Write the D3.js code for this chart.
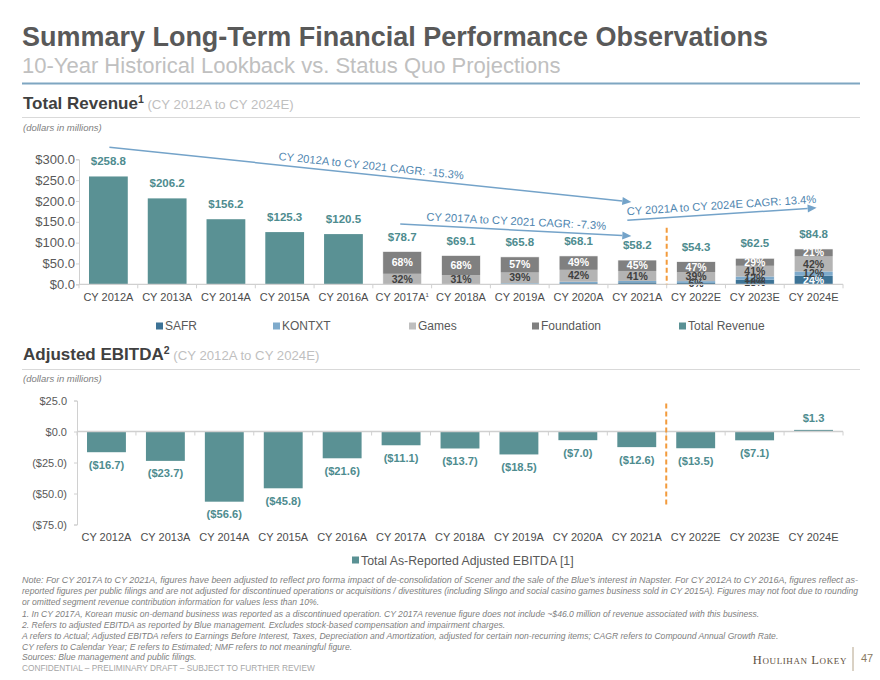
<!DOCTYPE html>
<html><head><meta charset="utf-8">
<script src="https://cdn.jsdelivr.net/npm/d3@7"></script>
<style>
body{margin:0;background:#fff;}
svg{font-family:"Liberation Sans",Arial,sans-serif;display:block;}
</style></head>
<body><svg id="c" width="880" height="680"></svg>
<script>
// ---------------- data ----------------
const categories = ["CY 2012A","CY 2013A","CY 2014A","CY 2015A","CY 2016A","CY 2017A","CY 2018A","CY 2019A","CY 2020A","CY 2021A","CY 2022E","CY 2023E","CY 2024E"];
const totalRevenue = [258.8,206.2,156.2,125.3,120.5,78.7,69.1,65.8,68.1,58.2,54.3,62.5,84.8];
const foundationPct = [null,null,null,null,null,68,68,57,49,45,47,29,21];
const gamesPct      = [null,null,null,null,null,32,31,39,42,41,39,41,42];
const kontxtPct     = [null,null,null,null,null,0,0,3,5,6,8,12,12];
const safrPct       = [null,null,null,null,null,0,1,1,4,8,6,18,24];
const ebitda = [-16.7,-23.7,-56.6,-45.8,-21.6,-11.1,-13.7,-18.5,-7.0,-12.6,-13.5,-7.1,1.3];
const revenueTicks = [0,50,100,150,200,250,300];
const ebitdaTicks = [-75,-50,-25,0,25];
const revenueLegend = ["SAFR","KONTXT","Games","Foundation","Total Revenue"];
const ebitdaLegend = ["Total As-Reported Adjusted EBITDA [1]"];
const cagrLabels = ["CY 2012A to CY 2021 CAGR: -15.3%","CY 2017A to CY 2021 CAGR: -7.3%","CY 2021A to CY 2024E CAGR: 13.4%"];
const footnotes = [
 "Note: For CY 2017A to CY 2021A, figures have been adjusted to reflect pro forma impact of de-consolidation of Scener and the sale of the Blue\u2019s interest in Napster. For CY 2012A to CY 2016A, figures reflect as-",
 "reported figures per public filings and are not adjusted for discontinued operations or acquisitions / divestitures (including Slingo and social casino games business sold in CY 2015A). Figures may not foot due to rounding",
 "or omitted segment revenue contribution information for values less than 10%.",
 "1.  In CY 2017A, Korean music on-demand business was reported as a discontinued operation. CY 2017A revenue figure does not include ~$46.0 million of revenue associated with this business.",
 "2.  Refers to adjusted EBITDA as reported by Blue management. Excludes stock-based compensation and impairment charges.",
 "A refers to Actual; Adjusted EBITDA refers to Earnings Before Interest, Taxes, Depreciation and Amortization, adjusted for certain non-recurring items; CAGR refers to Compound Annual Growth Rate.",
 "CY refers to Calendar Year; E refers to Estimated; NMF refers to not meaningful figure.",
 "Sources: Blue management and public filings."
];

// ---------------- styles ----------------
const TEAL = "#5a9194", TEAL_TXT = "#4e8c8f";
const SERIES = [
  {name:"SAFR", pct:safrPct, color:"#3d7396"},
  {name:"KONTXT", pct:kontxtPct, color:"#7eaacb"},
  {name:"Games", pct:gamesPct, color:"#b4b4b4"},
  {name:"Foundation", pct:foundationPct, color:"#808080"}
];
const legendColors = {"SAFR":"#3d7396","KONTXT":"#7eaacb","Games":"#bfbfbf","Foundation":"#808080","Total Revenue":TEAL};
const AXIS = "#d0d0d0", LBL = "#4d4d4d", ARROW = "#74a3c9", ARROW_TXT = "#4f86b0";

const svg = d3.select("#c");

// ---------------- header ----------------
svg.append("text").attr("x",22).attr("y",46).attr("font-size",27).attr("font-weight","bold")
  .attr("fill","#595959").attr("textLength",746).attr("lengthAdjust","spacingAndGlyphs")
  .text("Summary Long-Term Financial Performance Observations");
svg.append("text").attr("x",22).attr("y",73).attr("font-size",22).attr("fill","#c0c0c0")
  .text("10-Year Historical Lookback vs. Status Quo Projections");
svg.append("line").attr("x1",22).attr("x2",860).attr("y1",83.5).attr("y2",83.5)
  .attr("stroke","#7ea6c1").attr("stroke-width",2);

function section(yBase, main, sup, sub, ruleY, noteY){
  const t = svg.append("text").attr("x",23).attr("y",yBase);
  t.append("tspan").attr("font-size",17).attr("font-weight","bold").attr("fill","#404040").text(main);
  t.append("tspan").attr("font-size",10.5).attr("font-weight","bold").attr("fill","#404040").attr("dy",-6).text(sup);
  t.append("tspan").attr("font-size",13.2).attr("fill","#bfbfbf").attr("dy",6).text(" " + sub);
  svg.append("line").attr("x1",22).attr("x2",860).attr("y1",ruleY).attr("y2",ruleY).attr("stroke","#d9d9d9").attr("stroke-width",1);
  svg.append("text").attr("x",23).attr("y",noteY).attr("font-size",9.5).attr("font-style","italic")
    .attr("fill","#808080").text("(dollars in millions)");
}
section(109, "Total Revenue", "1", "(CY 2012A to CY 2024E)", 117.5, 131);
section(360, "Adjusted EBITDA", "2", "(CY 2012A to CY 2024E)", 369.5, 382);

// ---------------- revenue chart ----------------
const xR = d3.scaleBand().domain(categories).range([79,843]).paddingInner(0.34).paddingOuter(0.17);
const yR = d3.scaleLinear().domain([0,300]).range([284.3,159.3]);
const fmt1 = d3.format(",.1f");
const money = v => v < 0 ? "($" + fmt1(-v) + ")" : "$" + fmt1(v);

const gy = svg.append("g").attr("transform","translate(79,0)")
  .call(d3.axisLeft(yR).tickValues(revenueTicks).tickFormat(money).tickSize(3).tickPadding(1));
gy.selectAll("path,line").attr("stroke",AXIS);
gy.selectAll("text").attr("font-size",13).attr("fill","#595959").attr("font-family","'Liberation Sans',Arial,sans-serif");

const rows = categories.map((c,i)=>({c, total: totalRevenue[i], i}));
svg.append("g").selectAll("rect").data(rows.filter(d=>foundationPct[d.i]==null)).join("rect")
  .attr("x",d=>xR(d.c)).attr("width",xR.bandwidth())
  .attr("y",d=>yR(d.total)).attr("height",d=>yR(0)-yR(d.total)).attr("fill",TEAL);

const segs = [];
rows.filter(d=>foundationPct[d.i]!=null).forEach(d=>{
  const sum = SERIES.reduce((a,s)=>a + s.pct[d.i],0);
  let acc = 0;
  SERIES.forEach(s=>{
    const v = d.total * s.pct[d.i] / sum;
    segs.push({c:d.c, s, pct:s.pct[d.i], y0:acc, y1:acc+v});
    acc += v;
  });
});
svg.append("g").selectAll("rect").data(segs.filter(d=>d.pct>0)).join("rect")
  .attr("x",d=>xR(d.c)).attr("width",xR.bandwidth())
  .attr("y",d=>yR(d.y1)).attr("height",d=>yR(d.y0)-yR(d.y1)).attr("fill",d=>d.s.color);
svg.append("g").selectAll("rect").data(rows.filter(d=>foundationPct[d.i]!=null)).join("rect")
  .attr("x",d=>xR(d.c)).attr("width",xR.bandwidth())
  .attr("y",d=>yR(d.total)).attr("height",d=>yR(0)-yR(d.total))
  .attr("fill","none").attr("stroke","#ffffff").attr("stroke-width",0.6);

const showSeg = d => d.pct >= 10 || (d.s.name==="SAFR" && d.c.endsWith("E"));
const segColor = d => {
  if (d.s.name==="Foundation") return "#ffffff";
  if (d.s.name==="SAFR") return (yR(d.y0)-yR(d.y1)) > 8 ? "#ffffff" : "#404040";
  return "#404040";
};
svg.append("g").selectAll("text").data(segs.filter(showSeg)).join("text")
  .attr("x",d=>xR(d.c)+xR.bandwidth()/2)
  .attr("y",d=>(yR(d.y0)+yR(d.y1))/2 + 3.6)
  .attr("text-anchor","middle").attr("font-size",10.5).attr("font-weight","bold")
  .attr("fill",segColor).text(d=>d.pct + "%");

svg.append("g").selectAll("text").data(rows).join("text")
  .attr("x",d=>xR(d.c)+xR.bandwidth()/2).attr("y",d=>yR(d.total)-11)
  .attr("text-anchor","middle").attr("font-size",11.5).attr("font-weight","bold")
  .attr("fill",TEAL_TXT).text(d=>money(d.total));

const stepR = xR.step();
svg.append("line").attr("x1",79).attr("x2",843).attr("y1",yR(0)).attr("y2",yR(0)).attr("stroke",AXIS).attr("stroke-width",1.2);
svg.append("g").selectAll("line").data(d3.range(categories.length+1)).join("line")
  .attr("x1",k=>79+k*stepR).attr("x2",k=>79+k*stepR).attr("y1",yR(0)).attr("y2",yR(0)+4).attr("stroke",AXIS);
const xl = svg.append("g").selectAll("text").data(categories).join("text")
  .attr("x",d=>xR(d)+xR.bandwidth()/2).attr("y",301)
  .attr("text-anchor","middle").attr("font-size",11).attr("fill",LBL);
xl.append("tspan").text(d=>d);
xl.filter(d=>d==="CY 2017A").append("tspan").attr("font-size",6).attr("dy",-4).text("1");

const divX = 79 + 10*stepR;
svg.append("line").attr("x1",divX).attr("x2",divX).attr("y1",yR(136)).attr("y2",yR(0))
  .attr("stroke","#f39b3c").attr("stroke-width",2).attr("stroke-dasharray","5,3");

const xc = c => xR(c) + xR.bandwidth()/2;
const arrows = [
  {p0:[xc("CY 2012A")+1, yR(329)], p1:[xc("CY 2021A")-6, yR(197.5)], label:cagrLabels[0]},
  {p0:[xc("CY 2017A")-2, yR(144.5)], p1:[xc("CY 2021A")-6, yR(116)], label:cagrLabels[1]},
  {p0:[xc("CY 2021A")-10, yR(154)], p1:[xc("CY 2024E")+3, yR(183.5)], label:cagrLabels[2]}
];
arrows.forEach(a=>{
  const [x0,y0]=a.p0, [x1,y1]=a.p1;
  const ang = Math.atan2(y1-y0,x1-x0), L=9, W=4;
  const bx = x1 - L*Math.cos(ang), by = y1 - L*Math.sin(ang);
  svg.append("line").attr("x1",x0).attr("y1",y0).attr("x2",bx).attr("y2",by).attr("stroke",ARROW).attr("stroke-width",1.5);
  svg.append("path").attr("d",`M${x1},${y1}L${bx+W*Math.sin(ang)},${by-W*Math.cos(ang)}L${bx-W*Math.sin(ang)},${by+W*Math.cos(ang)}Z`).attr("fill",ARROW);
  const mx=(x0+x1)/2, my=(y0+y1)/2;
  const tx = mx + 5*Math.sin(ang), ty = my - 5*Math.cos(ang);
  svg.append("text").attr("transform",`translate(${tx},${ty}) rotate(${ang*180/Math.PI})`)
    .attr("text-anchor","middle").attr("font-size",11.2).attr("fill",ARROW_TXT).text(a.label);
});

const legX = [156,273,409,532,679];
const lg = svg.append("g").selectAll("g").data(revenueLegend).join("g")
  .attr("transform",(d,i)=>`translate(${legX[i]},326)`);
lg.append("rect").attr("x",0).attr("y",-3.5).attr("width",7).attr("height",7).attr("fill",d=>legendColors[d]);
lg.append("text").attr("x",9).attr("y",4.3).attr("font-size",12).attr("fill","#595959").text(d=>d);

// ---------------- EBITDA chart ----------------
const xE = d3.scaleBand().domain(categories).range([77,843]).paddingInner(0.34).paddingOuter(0.17);
const yE = d3.scaleLinear().domain([-75,25]).range([524.5,400.5]);
const ge = svg.append("g").attr("transform","translate(77,0)")
  .call(d3.axisLeft(yE).tickValues(ebitdaTicks).tickFormat(money).tickSize(3).tickPadding(7));
ge.selectAll("path,line").attr("stroke",AXIS);
ge.selectAll("text").attr("font-size",11).attr("fill","#595959").attr("font-family","'Liberation Sans',Arial,sans-serif");

const erows = categories.map((c,i)=>({c, v: ebitda[i]}));
svg.append("g").selectAll("rect").data(erows).join("rect")
  .attr("x",d=>xE(d.c)).attr("width",xE.bandwidth())
  .attr("y",d=>yE(Math.max(0,d.v))).attr("height",d=>Math.abs(yE(d.v)-yE(0))).attr("fill",TEAL);
svg.append("g").selectAll("text").data(erows).join("text")
  .attr("x",d=>xE(d.c)+xE.bandwidth()/2)
  .attr("y",d=>d.v<0 ? yE(d.v)+16.5 : yE(d.v)-8)
  .attr("text-anchor","middle").attr("font-size",11.2).attr("font-weight","bold")
  .attr("fill",TEAL_TXT).text(d=>money(d.v));

const stepE = xE.step();
svg.append("line").attr("x1",77).attr("x2",843).attr("y1",yE(0)).attr("y2",yE(0)).attr("stroke",AXIS).attr("stroke-width",1.4);
svg.append("g").selectAll("line").data(d3.range(categories.length+1)).join("line")
  .attr("x1",k=>77+k*stepE).attr("x2",k=>77+k*stepE).attr("y1",yE(0)).attr("y2",yE(0)+4).attr("stroke",AXIS);
svg.append("g").selectAll("text").data(categories).join("text")
  .attr("x",d=>xE(d)+xE.bandwidth()/2).attr("y",540.5)
  .attr("text-anchor","middle").attr("font-size",11).attr("fill",LBL).text(d=>d);

const divE = 77 + 10*stepE;
svg.append("line").attr("x1",divE).attr("x2",divE).attr("y1",yE(22.5)).attr("y2",yE(-60))
  .attr("stroke","#f39b3c").attr("stroke-width",2).attr("stroke-dasharray","5,3");

const el = svg.append("g").attr("transform","translate(352,560)");
el.append("rect").attr("x",0).attr("y",-3.5).attr("width",7).attr("height",7).attr("fill",TEAL);
el.append("text").attr("x",9).attr("y",4.5).attr("font-size",12.3).attr("fill","#595959").text(ebitdaLegend[0]);

// ---------------- footnotes ----------------
const fnY = [583,594,605,617,628,639,649.5,660];
const fnNodes = footnotes.map((t,i)=>svg.append("text").attr("x",22).attr("y",fnY[i]).attr("font-size",8.6)
    .attr("font-style","italic").attr("fill","#808080").text(t));
const natural = fnNodes.map(n=>n.node().getComputedTextLength());
const squeeze = Math.min(1, 836 / natural[0]);
fnNodes.forEach((n,i)=>{
  const w = i < 2 ? 836 : natural[i]*squeeze;
  n.attr("textLength",w).attr("lengthAdjust","spacingAndGlyphs");
});
svg.append("text").attr("x",22).attr("y",671).attr("font-size",8.3).attr("fill","#a6a6a6")
  .text("CONFIDENTIAL \u2013 PRELIMINARY DRAFT \u2013 SUBJECT TO FURTHER REVIEW");
svg.append("text").attr("x",847).attr("y",664).attr("text-anchor","end").attr("font-size",12.5)
  .attr("font-family","'Liberation Serif','DejaVu Serif',serif").attr("font-variant","small-caps")
  .attr("fill","#5e4f3e").attr("letter-spacing",0.6).text("Houlihan Lokey");
svg.append("line").attr("x1",853).attr("x2",853).attr("y1",647).attr("y2",671).attr("stroke","#b5a48a").attr("stroke-width",1);
svg.append("text").attr("x",861).attr("y",662).attr("font-size",11).attr("fill","#8a7a62").text("47");
</script></body></html>
